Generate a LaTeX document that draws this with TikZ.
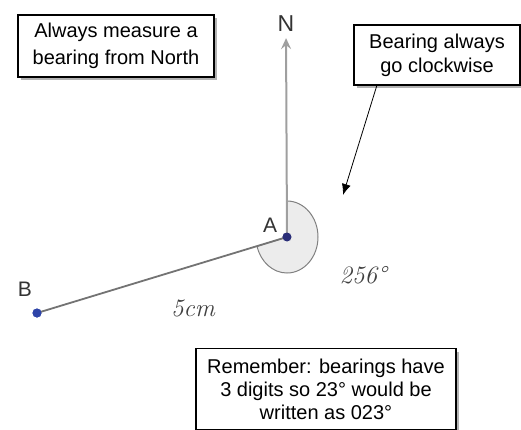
\documentclass[tikz,border=0pt]{standalone}
\usepackage{fontspec}
\setmainfont{Liberation Sans}
\newfontfamily\handfont{Latin Modern Roman}
\usetikzlibrary{arrows, arrows.meta, calc, shadows}
\definecolor{pointnavy}{HTML}{2A2E78}
\definecolor{pointblue}{HTML}{2E44A8}
\tikzset{notebox/.style={draw=black, line width=1.2pt, fill=white, align=center,
    drop shadow={shadow xshift=2.5pt, shadow yshift=-3pt, fill=gray, opacity=0.6}}}
\tikzset{hand/.style={font=\handfont\itshape\fontsize{25}{25}\selectfont, text=black!75}}

\begin{document}
\begin{tikzpicture}[x=1pt,y=1pt,>=stealth]
\useasboundingbox (0,0) rectangle (521,429);
\clip (0,0) rectangle (521,429);
% The notes
\node [notebox, minimum width=196pt, minimum height=62pt, font=\fontsize{20}{27}\selectfont] (noteNorth) at (116,383) {Always measure a\\bearing from North};
\node [notebox, minimum width=166pt, minimum height=60pt, font=\fontsize{20}{24}\selectfont] (noteClock) at (437,374) {Bearing always\\go clockwise};
\node [notebox, anchor=north, minimum width=260pt, inner ysep=10pt, font=\fontsize{20}{23}\selectfont] (noteDigits) at (326,81) {Remember: bearings have\\3 digits so 23\textdegree{} would be\\written as 023\textdegree};
% Points
\node [circle, inner sep=0pt, minimum size=9pt, fill=pointnavy] (A) at (287,192) {};
\node [circle, inner sep=0pt, minimum size=9pt, fill=pointblue] (B) at (37,116) {};
\node [font=\fontsize{21}{21}\selectfont, text=black!80] (labelA) at (270,204) {A};
\node [font=\fontsize{21}{21}\selectfont, text=black!80] (labelB) at (25,140) {B};
\node [font=\fontsize{23}{23}\selectfont, text=black!80, inner sep=0pt] (labelN) at (286,405) {N};
% The angle
\filldraw [fill=gray!15, draw=gray, line width=1pt] (A.center) -- ++(0,36) arc[start angle=90, end angle=-165, x radius=31, y radius=36] -- cycle;
\draw [-{Stealth[length=11pt,width=10pt,inset=4pt]}, draw=gray!75, line width=2pt, shorten >=6pt] (A.center) -- (labelN.south);
\draw [draw=black!55, line width=1.8pt] (B.center) -- (A.center);
\node [circle, inner sep=0pt, minimum size=9pt, fill=pointnavy] at (A) {};
\node [circle, inner sep=0pt, minimum size=9pt, fill=pointblue] at (B) {};
% Clockwise pointer
\coordinate (clockTip) at (343,234);
\draw [-{Latex[length=11pt,width=9pt]}, line width=0.8pt] ($(noteClock.south west)!0.14!(noteClock.south east)$) -- (clockTip);
% Measures
\node [hand] (lengthAB) at (193,121) {5cm};
\node [hand] (bearingAB) at (363,154) {256\textdegree};
\end{tikzpicture}
\end{document}
